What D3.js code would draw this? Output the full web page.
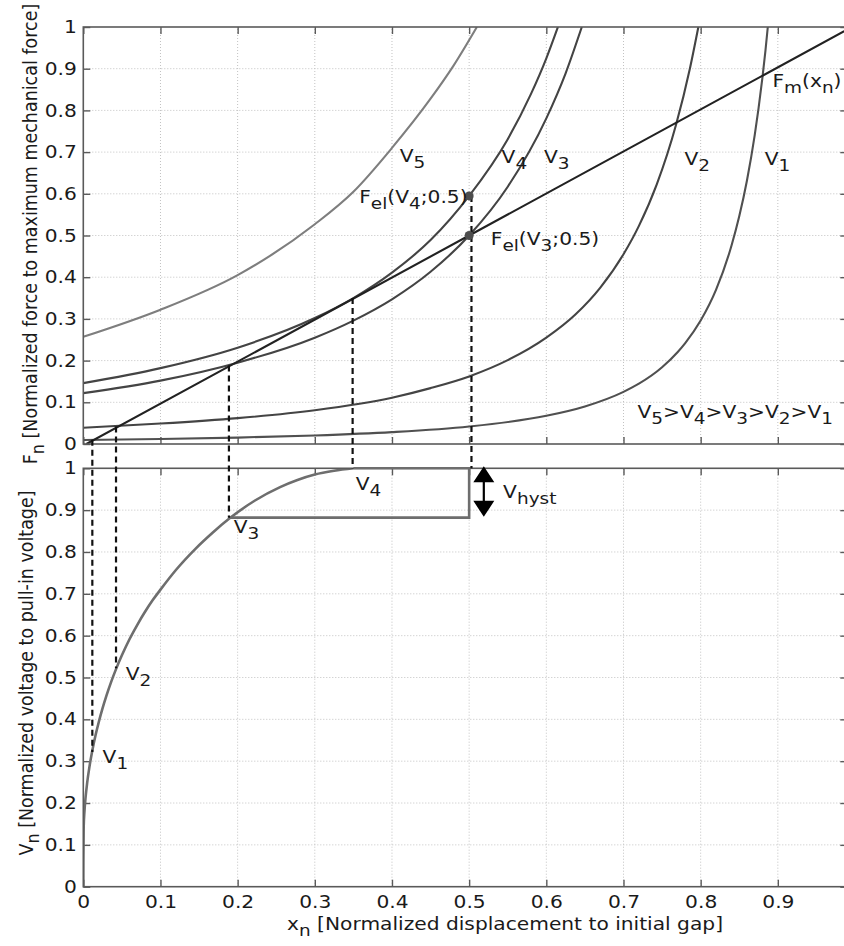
<!DOCTYPE html>
<html>
<head>
<meta charset="utf-8">
<script src="https://cdn.jsdelivr.net/npm/d3@7"></script>
<style>
  body { margin: 0; background: #ffffff; }
  svg { display: block; }
  text { font-family: "DejaVu Sans", sans-serif; font-size: 17.5px; fill: #1a1a1a; }
</style>
</head>
<body>
<svg id="chart" width="844" height="946"></svg>
<script>
// electrostatic force for each voltage, [xn, Fn]
const fV1 = [[0, 0.0096], [0.1, 0.012], [0.2, 0.0154], [0.3, 0.0205], [0.4, 0.0285], [0.5, 0.042],
  [0.6, 0.0676], [0.65, 0.09], [0.7, 0.125], [0.72, 0.1446], [0.75, 0.184], [0.77, 0.22],
  [0.78, 0.242], [0.8, 0.296], [0.82, 0.37], [0.84, 0.476], [0.85, 0.546], [0.86, 0.632],
  [0.87, 0.74], [0.875, 0.805], [0.88, 0.878], [0.884, 0.944], [0.887, 1.0]];
const fV2 = [[0, 0.039], [0.1, 0.049], [0.2, 0.062], [0.3, 0.081], [0.4, 0.111], [0.45, 0.134],
  [0.5, 0.162], [0.55, 0.201], [0.6, 0.255], [0.638, 0.311], [0.67, 0.375], [0.7, 0.455],
  [0.72, 0.523], [0.743, 0.622], [0.768, 0.765], [0.786, 0.9], [0.797, 1.0]];
const fV3 = [[0, 0.122], [0.1, 0.152], [0.2, 0.195], [0.3, 0.255], [0.35, 0.296], [0.4, 0.347],
  [0.45, 0.413], [0.5, 0.5], [0.55, 0.617], [0.6, 0.781], [0.625, 0.889], [0.646, 1.0]];
const fV4 = [[0, 0.146], [0.1, 0.182], [0.2, 0.231], [0.3, 0.302], [0.35, 0.35], [0.4, 0.411],
  [0.45, 0.489], [0.5, 0.595], [0.55, 0.731], [0.58, 0.839], [0.6, 0.925], [0.615, 1.0]];
const fV5 = [[0, 0.257], [0.1, 0.322], [0.2, 0.405], [0.3, 0.527], [0.35, 0.605], [0.4, 0.71],
  [0.45, 0.828], [0.48, 0.908], [0.51, 1.0]];

// mechanical restoring force
const fMech = [[0.004, 0], [0.5, 0.5], [0.986, 0.99]];

// static voltage vs displacement, [xn, Vn]
const vCurve = [[0, 0], [0.0001, 0.065], [0.0005, 0.143], [0.0015, 0.18], [0.003, 0.2145],
  [0.005, 0.248], [0.008, 0.287], [0.0117, 0.3256], [0.016, 0.363], [0.02, 0.393], [0.025, 0.4266],
  [0.03, 0.4566], [0.036, 0.489], [0.0424, 0.52], [0.05, 0.553], [0.06, 0.592], [0.07, 0.626],
  [0.08, 0.657], [0.09, 0.685], [0.1, 0.71], [0.12, 0.757], [0.145, 0.807], [0.1675, 0.846],
  [0.19, 0.881], [0.2225, 0.923], [0.255, 0.955], [0.2775, 0.972], [0.3, 0.985], [0.325, 0.994],
  [0.35, 1]];

// hysteresis loop on the voltage plot
const hystLoop = [[0.19, 0.882], [0.5, 0.882], [0.5, 1], [0.35, 1]];

// dashed drop lines: x, start force (top plot), end voltage (bottom plot)
const dropX = [0.0117, 0.0424, 0.1887, 0.349, 0.503];
const dropF = [0.01, 0.042, 0.188, 0.35, 0.595];
const dropV = [0.322, 0.522, 0.882, 1, 1];

// marked points F_el(V4;0.5) and F_el(V3;0.5)
const markX = [0.5, 0.5];
const markF = [0.595, 0.5];

const xTicks = [0, 0.1, 0.2, 0.3, 0.4, 0.5, 0.6, 0.7, 0.8, 0.9];
const yTicks = [0, 0.1, 0.2, 0.3, 0.4, 0.5, 0.6, 0.7, 0.8, 0.9, 1];


const stretch = 1.155; // the scanned figure is wider than its lettering
const xMax = 0.99;
const frameColour = '#5a5a5a';
const fmt = d3.format('.1~f');

const x = d3.scaleLinear().domain([0, 1]).range([83.3, 855]);
const yTop = d3.scaleLinear().domain([0, 1]).range([444, 27]);
const yBot = d3.scaleLinear().domain([0, 1]).range([886.7, 468.3]);

const svg = d3.select('#chart');

svg.append('defs').selectAll('clipPath')
  .data([['clipTop', yTop], ['clipBot', yBot]])
  .enter()
  .append('clipPath')
  .attr('id', d => d[0])
  .append('rect')
  .attr('x', x(0))
  .attr('y', d => d[1](1))
  .attr('width', x(xMax) - x(0))
  .attr('height', d => d[1](0) - d[1](1));


// grid, ticks and tick labels of one panel
function panel(y, showXLabels) {
  const g = svg.append('g');
  const tick = 7;

  g.selectAll('line.vgrid')
    .data(xTicks.slice(1))
    .enter()
    .append('line')
    .attr('class', 'vgrid')
    .attr('x1', d => x(d)).attr('x2', d => x(d))
    .attr('y1', y(0)).attr('y2', y(1))
    .attr('stroke', '#c2c2c2')
    .attr('stroke-dasharray', '1,2');

  g.selectAll('line.hgrid')
    .data(yTicks.slice(1, -1))
    .enter()
    .append('line')
    .attr('class', 'hgrid')
    .attr('x1', x(0)).attr('x2', x(xMax))
    .attr('y1', d => y(d)).attr('y2', d => y(d))
    .attr('stroke', '#c2c2c2')
    .attr('stroke-dasharray', '1,2');

  g.append('g')
    .attr('transform', `translate(0,${y(0)})`)
    .call(d3.axisBottom(x).tickValues(xTicks).tickSize(-tick).tickPadding(8.6)
      .tickFormat(showXLabels ? fmt : ''));
  g.append('g')
    .attr('transform', `translate(0,${y(1)})`)
    .call(d3.axisTop(x).tickValues(xTicks).tickSize(-tick).tickFormat(''));
  g.append('g')
    .attr('transform', `translate(${x(0)},0)`)
    .call(d3.axisLeft(y).tickValues(yTicks).tickSize(-tick).tickPadding(5.6).tickFormat(fmt));
  g.append('g')
    .attr('transform', `translate(${x(xMax)},0)`)
    .call(d3.axisRight(y).tickValues(yTicks).tickSize(-tick).tickFormat(''));

  g.selectAll('.domain').remove();
  g.selectAll('.tick line').attr('stroke', frameColour).attr('stroke-width', 1.4);
  g.selectAll('.tick text').attr('transform', `scale(${stretch},1)`);
  return g;
}

function frame(y) {
  svg.append('rect')
    .attr('x', x(0))
    .attr('y', y(1))
    .attr('width', x(xMax) - x(0))
    .attr('height', y(0) - y(1))
    .attr('fill', 'none')
    .attr('stroke', frameColour)
    .attr('stroke-width', 1.6);
}

// parts starting with '_' are subscripts
function addText(transform, parts, anchor) {
  const t = svg.append('text')
    .attr('transform', transform)
    .attr('text-anchor', anchor || 'start');
  let low = false;
  parts.forEach(p => {
    const isSub = p.startsWith('_');
    const span = t.append('tspan').text(isSub ? p.slice(1) : p);
    if (isSub !== low) span.attr('dy', isSub ? 6 : -6);
    if (isSub) span.style('font-size', '16px');
    low = isSub;
  });
  return t;
}

const flat = (px, py) => `translate(${px},${py}) scale(${stretch},1)`;
const upright = (px, py) => `translate(${px},${py}) rotate(-90) scale(1,${stretch})`;


panel(yTop, false);
panel(yBot, true);

// top plot: forces
const lineTop = d3.line().x(d => x(d[0])).y(d => yTop(d[1])).curve(d3.curveMonotoneX);
const lineStraight = d3.line().x(d => x(d[0])).y(d => yTop(d[1]));
const forceCurves = [
  { pts: fV5, colour: '#7e7e7e', w: 2.1 },
  { pts: fV4, colour: '#444444', w: 2.1 },
  { pts: fV3, colour: '#444444', w: 2.1 },
  { pts: fV2, colour: '#444444', w: 2.1 },
  { pts: fV1, colour: '#505050', w: 2.1 },
  { pts: fMech, colour: '#222222', w: 2.1 }
];

svg.append('g')
  .attr('clip-path', 'url(#clipTop)')
  .selectAll('path')
  .data(forceCurves)
  .enter()
  .append('path')
  .attr('d', d => d.pts === fMech ? lineStraight(d.pts) : lineTop(d.pts))
  .attr('fill', 'none')
  .attr('stroke', d => d.colour)
  .attr('stroke-width', d => d.w);

// bottom plot: voltage
const lineBot = d3.line().x(d => x(d[0])).y(d => yBot(d[1])).curve(d3.curveMonotoneX);
svg.append('g')
  .attr('clip-path', 'url(#clipBot)')
  .append('path')
  .attr('d', lineBot(vCurve))
  .attr('fill', 'none')
  .attr('stroke', '#6e6e6e')
  .attr('stroke-width', 2.6);

frame(yTop);
frame(yBot);

svg.append('path')
  .attr('d', d3.line().x(d => x(d[0])).y(d => yBot(d[1]))(hystLoop))
  .attr('fill', 'none')
  .attr('stroke', '#6e6e6e')
  .attr('stroke-width', 2.6);

// dashed drop lines between the plots
svg.append('g')
  .selectAll('line')
  .data(dropX)
  .enter()
  .append('line')
  .attr('x1', d => x(d)).attr('x2', d => x(d))
  .attr('y1', (d, i) => yTop(dropF[i]))
  .attr('y2', (d, i) => yBot(dropV[i]))
  .attr('stroke', '#111')
  .attr('stroke-width', 2.2)
  .attr('stroke-dasharray', '6,4');

svg.append('g')
  .selectAll('circle')
  .data(markX)
  .enter()
  .append('circle')
  .attr('cx', d => x(d))
  .attr('cy', (d, i) => yTop(markF[i]))
  .attr('r', 4.5)
  .attr('fill', '#4d4d4d');

// hysteresis arrow
const ax = x(0.519);
const aTop = yBot(1.005);
const aBot = yBot(0.884);
svg.append('line')
  .attr('x1', ax).attr('x2', ax)
  .attr('y1', aTop + 8).attr('y2', aBot - 8)
  .attr('stroke', '#000')
  .attr('stroke-width', 2.2);
svg.append('path')
  .attr('d', `M${ax},${aTop} l-10.5,16 h21 Z M${ax},${aBot} l-10.5,-16 h21 Z`)
  .attr('fill', '#000');

// annotations, top plot
addText(flat(x(0.41), yTop(0.677)), ['V', '_5']);
addText(flat(x(0.542), yTop(0.673)), ['V', '_4']);
addText(flat(x(0.597), yTop(0.673)), ['V', '_3']);
addText(flat(x(0.779), yTop(0.669)), ['V', '_2']);
addText(flat(x(0.883), yTop(0.669)), ['V', '_1']);
addText(flat(x(0.893), yTop(0.857)), ['F', '_m', '(x', '_n', ')']);
addText(flat(x(0.498), yTop(0.577)), ['F', '_el', '(V', '_4', ';0.5)'], 'end');
addText(flat(x(0.528), yTop(0.477)), ['F', '_el', '(V', '_3', ';0.5)']);
addText(flat(x(0.718), yTop(0.062)), ['V', '_5', '>V', '_4', '>V', '_3', '>V', '_2', '>V', '_1']);

// annotations, bottom plot
addText(flat(x(0.353), yBot(0.948)), ['V', '_4']);
addText(flat(x(0.195), yBot(0.845)), ['V', '_3']);
addText(flat(x(0.055), yBot(0.494)), ['V', '_2']);
addText(flat(x(0.025), yBot(0.295)), ['V', '_1']);
addText(flat(x(0.544), yBot(0.93)), ['V', '_hyst']);

// axis titles
addText(flat(287, 930), ['x', '_n', ' [Normalized displacement to initial gap]']);
addText(upright(37, 234), ['F', '_n', ' [Normalized force to maximum mechanical force]'], 'middle');
addText(upright(32.5, 673), ['V', '_n', ' [Normalized voltage to pull-in voltage]'], 'middle');
</script>
</body>
</html>
